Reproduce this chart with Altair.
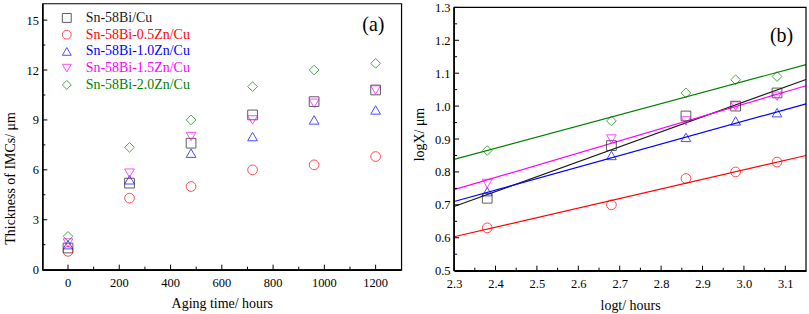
import altair as alt
import pandas as pd

series = ["Sn-58Bi/Cu", "Sn-58Bi-0.5Zn/Cu", "Sn-58Bi-1.0Zn/Cu", "Sn-58Bi-1.5Zn/Cu", "Sn-58Bi-2.0Zn/Cu"]
colors = ["#1a1a1a", "#ff0000", "#0000ff", "#ff00ff", "#008000"]
shapes = ["square", "circle", "triangle-up", "triangle-down", "diamond"]

# Panel (a): IMC thickness vs aging time
aging_hours = [0, 240, 480, 720, 960, 1200]
thick_bi = [1.3, 5.2, 7.6, 9.3, 10.1, 10.8]
thick_05zn = [1.1, 4.3, 5.0, 6.0, 6.3, 6.8]
thick_10zn = [1.5, 5.4, 7.0, 8.0, 9.0, 9.6]
thick_15zn = [1.6, 5.8, 8.0, 9.0, 10.0, 10.8]
thick_20zn = [2.0, 7.35, 9.0, 11.0, 12.0, 12.4]

# Panel (b): logX vs logt
logt = [2.38, 2.68, 2.86, 2.98, 3.08]
logx_bi = [0.72, 0.88, 0.97, 1.00, 1.04]
logx_05zn = [0.63, 0.70, 0.78, 0.80, 0.83]
logx_10zn = [0.74, 0.85, 0.905, 0.955, 0.98]
logx_15zn = [0.765, 0.90, 0.955, 1.00, 1.03]
logx_20zn = [0.865, 0.955, 1.04, 1.08, 1.09]

# fitted lines (end points read at logt = 2.30 and 3.15)
fit_logt = [2.30, 3.15]
fit_bi = [0.695, 1.081]
fit_05zn = [0.603, 0.850]
fit_10zn = [0.710, 1.007]
fit_15zn = [0.746, 1.062]
fit_20zn = [0.838, 1.126]

# tick values
a_x_major = [0, 200, 400, 600, 800, 1000, 1200]
a_x_minor = [100, 300, 500, 700, 900, 1100]
a_y_major = [0, 3, 6, 9, 12, 15]
a_y_minor = [1.5, 4.5, 7.5, 10.5, 13.5]
b_x_major = [2.3, 2.4, 2.5, 2.6, 2.7, 2.8, 2.9, 3.0, 3.1]
b_x_minor = [2.35, 2.45, 2.55, 2.65, 2.75, 2.85, 2.95, 3.05]
b_y_major = [0.5, 0.6, 0.7, 0.8, 0.9, 1.0, 1.1, 1.2, 1.3]
b_y_minor = [0.55, 0.65, 0.75, 0.85, 0.95, 1.05, 1.15, 1.25]

FONT = "Liberation Serif"

a_rows = []
for s, ys in zip(series, [thick_bi, thick_05zn, thick_10zn, thick_15zn, thick_20zn]):
    for x, y in zip(aging_hours, ys):
        a_rows.append({"series": s, "x": x, "y": y})
df_a = pd.DataFrame(a_rows)

b_rows = []
for s, ys in zip(series, [logx_bi, logx_05zn, logx_10zn, logx_15zn, logx_20zn]):
    for x, y in zip(logt, ys):
        b_rows.append({"series": s, "x": x, "y": y})
df_b = pd.DataFrame(b_rows)

f_rows = []
for s, ys in zip(series, [fit_bi, fit_05zn, fit_10zn, fit_15zn, fit_20zn]):
    for x, y in zip(fit_logt, ys):
        f_rows.append({"series": s, "x": x, "y": y})
df_f = pd.DataFrame(f_rows)

color_expr = "[" + ",".join("'%s'" % c for c in colors) + "][indexof([" + ",".join("'%s'" % s for s in series) + "], datum.value)]"

W1, H1 = 360, 267
W2, H2 = 353, 268

xa_scale = alt.Scale(domain=[-100, 1300], nice=False, zero=False)
ya_scale = alt.Scale(domain=[0, 16], nice=False)
xb_scale = alt.Scale(domain=[2.3, 3.15], nice=False, zero=False)
yb_scale = alt.Scale(domain=[0.5, 1.3119], nice=False, zero=False)

def axis(title, values, orient, tpad=8, **kw):
    return alt.Axis(title=title, values=values, ticks=False, tickSize=0,
                    grid=False, labelFont=FONT, labelFontSize=12.5, labelColor="black",
                    labelOverlap=False, labelFlush=False, labelSeparation=0,
                    titleFont=FONT, titleFontSize=14, titleFontWeight="normal", titleColor="black",
                    domainColor="black", domainWidth=1.6, labelPadding=(7 if orient == "x" else 4),
                    titlePadding=tpad, **kw)

# panel (a) x labels are drawn by a text layer through the x scale
xa_axis = axis("Aging time/ hours", a_x_major, "x", tpad=27, labels=False)
ya_axis = axis("Thickness of IMCs/ μm", a_y_major, "y", format="d", titleY=175)
xb_axis = axis("logt/ hours", b_x_major, "x", format=".1f")
yb_axis = axis("logX/ μm", b_y_major, "y", format=".1f", domain=False, titleY=131)

def legend(lx, ly, rowpad, size, offset):
    return alt.Legend(title=None, orient="none", legendX=lx, legendY=ly, padding=0,
                      labelFont=FONT, labelFontSize=size, labelColor={"expr": color_expr},
                      symbolStrokeWidth=1, symbolSize=80, symbolFillColor="transparent",
                      rowPadding=rowpad, labelOffset=offset)

def tick_layers(xs_major, xs_minor, ys_major, ys_minor, xs, ys, xax, yax, W, H):
    out = []
    for vals, ln in [(xs_major, 5), (xs_minor, 3)]:
        out.append(alt.Chart(pd.DataFrame({"x": vals})).mark_rule(color="black", strokeWidth=1).encode(
            x=alt.X("x:Q", scale=xs, axis=xax), y=alt.value(H), y2=alt.value(H - ln)))
    for vals, ln in [(ys_major, 5), (ys_minor, 3)]:
        out.append(alt.Chart(pd.DataFrame({"y": vals})).mark_rule(color="black", strokeWidth=1).encode(
            y=alt.Y("y:Q", scale=ys, axis=yax), x=alt.value(0), x2=alt.value(ln)))
    return out

leg_a = legend(17.5, 7.5, 2.8, 14, 12)
pts_a = alt.Chart(df_a).mark_point(filled=False, size=95, strokeWidth=1).encode(
    x=alt.X("x:Q", scale=xa_scale, axis=xa_axis),
    y=alt.Y("y:Q", scale=ya_scale, axis=ya_axis),
    color=alt.Color("series:N", scale=alt.Scale(domain=series, range=colors), legend=leg_a),
    shape=alt.Shape("series:N", scale=alt.Scale(domain=series, range=shapes), legend=leg_a),
)
xlab_a = alt.Chart(pd.DataFrame({"x": a_x_major})).mark_text(
    font=FONT, fontSize=12.5, color="black", baseline="middle", align="center").encode(
    x=alt.X("x:Q", scale=xa_scale, axis=xa_axis),
    y=alt.value(H1 + 13.5),
    text=alt.Text("x:Q", format="d"),
)
lab_a = alt.Chart(pd.DataFrame({"t": ["(a)"]})).mark_text(font=FONT, fontSize=20, color="black").encode(
    text="t:N", x=alt.value(332), y=alt.value(22))

panel_a = alt.layer(
    pts_a,
    *tick_layers(a_x_major, a_x_minor, a_y_major, a_y_minor, xa_scale, ya_scale, xa_axis, ya_axis, W1, H1),
    xlab_a, lab_a
).properties(width=W1, height=H1, view=alt.ViewBackground(stroke="black", strokeWidth=1.2))

leg_b = legend(30, 21, 2.7, 13.5, 12)
lines_b = alt.Chart(df_f).mark_line(strokeWidth=1.2).encode(
    x=alt.X("x:Q", scale=xb_scale, axis=xb_axis),
    y=alt.Y("y:Q", scale=yb_scale, axis=yb_axis),
    color=alt.Color("series:N", scale=alt.Scale(domain=series, range=colors), legend=None),
    detail="series:N",
)
pts_b = alt.Chart(df_b).mark_point(filled=False, size=95, strokeWidth=1).encode(
    x=alt.X("x:Q", scale=xb_scale, axis=xb_axis),
    y=alt.Y("y:Q", scale=yb_scale, axis=yb_axis),
    color=alt.Color("series:N", scale=alt.Scale(domain=series, range=colors), legend=leg_b),
    shape=alt.Shape("series:N", scale=alt.Scale(domain=series, range=shapes), legend=leg_b),
)
frame_top = [1.3]
frame_b = alt.Chart(pd.DataFrame({"y": frame_top})).mark_rect(fill="transparent", stroke="black", strokeWidth=1.2).encode(
    x=alt.value(0), x2=alt.value(W2), y=alt.Y("y:Q", scale=yb_scale, axis=yb_axis), y2=alt.value(H2))
leftline_b = alt.Chart(pd.DataFrame({"y": frame_top})).mark_rule(color="black", strokeWidth=1.6).encode(
    x=alt.value(0), y=alt.Y("y:Q", scale=yb_scale, axis=yb_axis), y2=alt.value(H2))
lab_b = alt.Chart(pd.DataFrame({"t": ["(b)"]})).mark_text(font=FONT, fontSize=20, color="black").encode(
    text="t:N", x=alt.value(328.5), y=alt.value(33))

panel_b = alt.layer(
    lines_b, pts_b,
    *tick_layers(b_x_major, b_x_minor, b_y_major, b_y_minor, xb_scale, yb_scale, xb_axis, yb_axis, W2, H2),
    frame_b, leftline_b, lab_b
).properties(width=W2, height=H2, view=alt.ViewBackground(stroke=None))

chart = alt.hconcat(panel_a, panel_b, spacing=53, bounds="flush").resolve_scale(
    x="independent", y="independent", color="independent", shape="independent"
).resolve_legend(color="independent", shape="independent").properties(
    padding={"left": 2.5, "top": 0, "right": 0, "bottom": 0},
    background="white",
).configure_axis(labelOverlap=False, labelFlush=False)

chart.save("out.html", embed_options={"renderer": "svg", "actions": False})
